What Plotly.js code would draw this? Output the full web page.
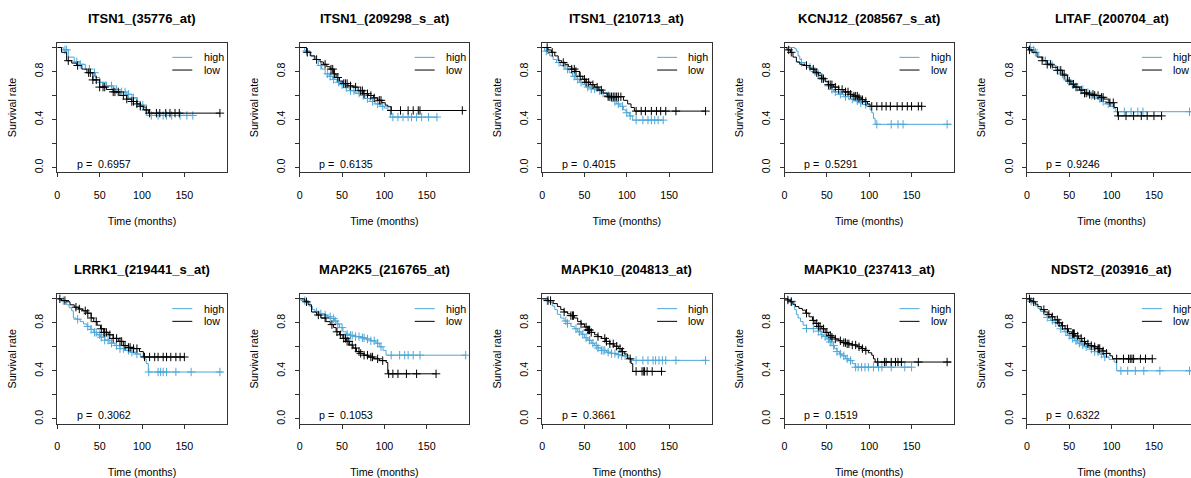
<!DOCTYPE html>
<html>
<head>
<meta charset="utf-8">
<script src="https://cdn.plot.ly/plotly-3.0.1.min.js"></script>
<style>
html,body{margin:0;padding:0;overflow:hidden;background:#fff;}
#chart{width:1212px;height:478px;}
</style>
</head>
<body>
<div id="chart"></div>
<script>
// ---------- DATA ----------
const titles = ["ITSN1_(35776_at)", "ITSN1_(209298_s_at)", "ITSN1_(210713_at)", "KCNJ12_(208567_s_at)", "LITAF_(200704_at)",
                "LRRK1_(219441_s_at)", "MAP2K5_(216765_at)", "MAPK10_(204813_at)", "MAPK10_(237413_at)", "NDST2_(203916_at)"];
const pValues = ["0.6957", "0.6135", "0.4015", "0.5291", "0.9246", "0.3062", "0.1053", "0.3661", "0.1519", "0.6322"];
const groupNames = ["high", "low"];
const xTickVals = [0, 50, 100, 150];
const yTickVals = [0, 0.2, 0.4, 0.6, 0.8, 1.0];
const yTickText = ["0.0", "", "0.4", "", "0.8", ""];

// Panel 1
const p1HighTime = [0, 7, 13, 20, 27, 33, 39, 45, 50, 58, 66, 74, 82, 88, 94, 98, 102, 105, 160];
const p1HighSurv = [1, 0.98, 0.92, 0.88, 0.86, 0.82, 0.79, 0.75, 0.71, 0.68, 0.65, 0.63, 0.61, 0.58, 0.55, 0.52, 0.50, 0.434, 0.434];
const p1HighCens = [9, 11, 23, 27, 38, 44, 50, 58, 64, 70, 76, 80, 84, 90, 94, 98, 101, 111, 119, 125, 129, 135, 145, 153, 160];
const p1LowTime = [0, 5, 11, 17, 23, 29, 35, 42, 50, 58, 66, 74, 82, 88, 94, 98, 102, 107.5, 192];
const p1LowSurv = [1, 0.96, 0.89, 0.87, 0.85, 0.82, 0.79, 0.73, 0.67, 0.65, 0.63, 0.60, 0.57, 0.55, 0.53, 0.51, 0.48, 0.453, 0.453];
const p1LowCens = [13, 24, 37, 39, 42, 46, 50, 54, 56, 66, 68, 72, 78, 82, 88, 90, 94, 98, 105, 109, 117, 121, 128, 133, 139, 144, 192];

// Panel 2
const p2HighTime = [0, 6, 12, 17, 22, 26, 30, 35, 39, 44, 49, 54, 59, 65, 71, 77, 83, 89, 95, 100, 104, 107, 162];
const p2HighSurv = [1, 0.97, 0.93, 0.90, 0.85, 0.82, 0.78, 0.76, 0.735, 0.71, 0.69, 0.665, 0.64, 0.62, 0.60, 0.575, 0.55, 0.53, 0.51, 0.495, 0.48, 0.42, 0.42];
const p2HighCens = [8, 25, 33, 36, 40, 46, 50, 55, 60, 64, 70, 75, 80, 86, 92, 98, 110, 116, 122, 128, 132, 138, 144, 152, 162];
const p2LowTime = [0, 8, 13, 18, 24, 28, 32, 36, 40, 43, 47, 51, 57, 63, 69, 75, 81, 87, 92, 97, 101, 104, 108, 192];
const p2LowSurv = [1, 0.96, 0.93, 0.90, 0.88, 0.86, 0.84, 0.82, 0.78, 0.75, 0.72, 0.70, 0.68, 0.67, 0.64, 0.615, 0.60, 0.58, 0.56, 0.54, 0.52, 0.506, 0.475, 0.475];
const p2LowCens = [9, 20, 30, 37, 39, 41, 45, 52, 54, 56, 60, 66, 72, 74, 76, 80, 84, 88, 94, 96, 108, 119, 128, 134, 140, 142, 192];

// Panel 3
const p3HighTime = [0, 3, 6, 9, 13, 17, 22, 28, 32, 36, 40, 44, 48, 52, 58, 64, 70, 76, 80, 84, 88, 92, 96, 99, 103, 107, 143];
const p3HighSurv = [1, 0.97, 0.95, 0.93, 0.90, 0.875, 0.85, 0.82, 0.79, 0.76, 0.735, 0.71, 0.69, 0.67, 0.655, 0.64, 0.62, 0.60, 0.58, 0.55, 0.53, 0.51, 0.48, 0.456, 0.43, 0.395, 0.395];
const p3HighCens = [5, 20, 26, 30, 38, 42, 46, 54, 58, 62, 68, 72, 78, 82, 86, 90, 95, 100, 104, 111, 119, 125, 129, 133, 137, 143];
const p3LowTime = [0, 7, 11, 15, 19, 23, 27, 31, 35, 39, 44, 48, 52, 57, 62, 67, 72, 77, 96, 101, 105, 109, 193];
const p3LowSurv = [1, 0.98, 0.96, 0.93, 0.89, 0.875, 0.86, 0.84, 0.82, 0.80, 0.76, 0.735, 0.71, 0.69, 0.67, 0.645, 0.62, 0.59, 0.56, 0.53, 0.50, 0.47, 0.47];
const p3LowCens = [6, 12, 25, 35, 38, 40, 45, 50, 52, 55, 60, 65, 70, 78, 80, 82, 84, 86, 88, 90, 93, 111, 117, 122, 129, 135, 140, 146, 158, 193];

// Panel 4
const p4HighTime = [0, 12, 14, 16, 18, 20, 24, 28, 32, 36, 40, 44, 48, 51, 54, 58, 64, 70, 76, 82, 87, 92, 97, 101, 103, 105, 107, 197];
const p4HighSurv = [1, 0.99, 0.97, 0.93, 0.90, 0.875, 0.85, 0.835, 0.82, 0.80, 0.78, 0.75, 0.72, 0.68, 0.65, 0.63, 0.61, 0.59, 0.57, 0.555, 0.54, 0.525, 0.51, 0.48, 0.456, 0.41, 0.36, 0.36];
const p4HighCens = [20, 30, 36, 40, 44, 52, 56, 60, 66, 72, 80, 86, 90, 96, 109, 126, 134, 140, 192];
const p4LowTime = [0, 3, 7, 10, 14, 18, 24, 30, 36, 40, 44, 48, 52, 58, 64, 70, 76, 82, 87, 91, 95, 98, 101, 162];
const p4LowSurv = [1, 0.98, 0.96, 0.92, 0.88, 0.86, 0.85, 0.82, 0.79, 0.765, 0.74, 0.715, 0.69, 0.67, 0.65, 0.63, 0.61, 0.595, 0.58, 0.565, 0.55, 0.53, 0.51, 0.51];
const p4LowCens = [5, 8, 26, 34, 38, 44, 46, 52, 54, 56, 60, 64, 68, 72, 75, 78, 82, 84, 86, 88, 92, 96, 103, 109, 115, 120, 125, 133, 139, 145, 150, 158, 162];

// Panel 5
const p5HighTime = [0, 5, 9, 14, 20, 24, 28, 34, 40, 46, 52, 58, 64, 70, 76, 82, 87, 93, 99, 102, 105, 195];
const p5HighSurv = [1, 0.98, 0.96, 0.92, 0.89, 0.87, 0.85, 0.81, 0.78, 0.73, 0.69, 0.67, 0.65, 0.625, 0.60, 0.575, 0.55, 0.53, 0.51, 0.49, 0.465, 0.465];
const p5HighCens = [4, 8, 10, 22, 30, 38, 42, 48, 54, 60, 66, 72, 76, 80, 86, 90, 96, 107, 115, 123, 131, 137, 192];
const p5LowTime = [0, 2, 6, 12, 18, 24, 30, 36, 42, 48, 52, 56, 62, 68, 74, 80, 86, 91, 97, 103, 107, 159];
const p5LowSurv = [1, 0.98, 0.96, 0.92, 0.89, 0.86, 0.835, 0.81, 0.77, 0.72, 0.695, 0.67, 0.645, 0.62, 0.61, 0.60, 0.585, 0.57, 0.54, 0.50, 0.43, 0.43];
const p5LowCens = [3, 18, 24, 28, 36, 40, 44, 50, 55, 58, 64, 68, 70, 74, 78, 80, 84, 88, 90, 98, 102, 108, 117, 126, 135, 142, 150, 159];

// Panel 6
const p6HighTime = [0, 4, 8, 11, 14, 17, 19, 22, 27, 31, 35, 39, 43, 47, 51, 56, 62, 68, 74, 80, 86, 92, 98, 102, 105, 107.5, 195];
const p6HighSurv = [1, 0.985, 0.97, 0.95, 0.925, 0.90, 0.84, 0.83, 0.81, 0.79, 0.77, 0.745, 0.72, 0.70, 0.68, 0.655, 0.63, 0.61, 0.585, 0.57, 0.555, 0.54, 0.52, 0.50, 0.46, 0.39, 0.39];
const p6HighCens = [7, 24, 36, 40, 44, 46, 50, 52, 56, 60, 64, 70, 74, 78, 84, 88, 94, 108, 119, 122, 125, 129, 140, 158, 192];
const p6LowTime = [0, 5, 11, 15, 20, 25, 30, 35, 40, 43, 47, 51, 55, 60, 66, 72, 78, 84, 90, 97, 101.6, 150];
const p6LowSurv = [1, 0.985, 0.975, 0.95, 0.93, 0.915, 0.90, 0.88, 0.84, 0.81, 0.78, 0.75, 0.72, 0.70, 0.67, 0.645, 0.61, 0.595, 0.585, 0.56, 0.515, 0.515];
const p6LowCens = [3, 9, 22, 26, 33, 36, 40, 46, 52, 55, 56, 58, 62, 66, 70, 74, 76, 80, 84, 86, 90, 94, 103, 109, 115, 119, 125, 129, 134, 140, 145, 150];

// Panel 7
const p7HighTime = [0, 4, 8, 12, 15, 18, 23, 28, 33, 37, 41, 44, 47, 51, 55, 60, 66, 72, 78, 84, 90, 94, 98.4, 102, 196];
const p7HighSurv = [1, 0.985, 0.975, 0.935, 0.91, 0.89, 0.875, 0.865, 0.85, 0.835, 0.815, 0.79, 0.76, 0.725, 0.705, 0.695, 0.685, 0.675, 0.665, 0.65, 0.63, 0.60, 0.57, 0.53, 0.53];
const p7HighCens = [6, 20, 25, 30, 36, 40, 42, 45, 50, 56, 60, 62, 66, 70, 74, 76, 80, 84, 88, 92, 96, 108, 118, 124, 128, 134, 142, 196];
const p7LowTime = [0, 6, 10, 14, 20, 25, 31, 36, 40, 43, 47, 51, 55, 59, 63, 67, 71, 75, 81, 87, 94, 102, 104, 161];
const p7LowSurv = [1, 0.975, 0.95, 0.89, 0.865, 0.84, 0.81, 0.785, 0.76, 0.725, 0.70, 0.67, 0.645, 0.615, 0.59, 0.56, 0.545, 0.53, 0.515, 0.50, 0.485, 0.47, 0.375, 0.375];
const p7LowCens = [8, 22, 30, 38, 44, 48, 52, 54, 56, 58, 62, 66, 70, 72, 76, 80, 84, 86, 92, 98, 105, 110, 116, 126, 138, 161];

// Panel 8
const p8HighTime = [0, 4, 8, 12, 15, 18, 22, 26, 30, 34, 38, 42, 46, 50, 54, 58, 62, 66, 70, 76, 82, 88, 94, 100, 104, 107, 194];
const p8HighSurv = [1, 0.985, 0.97, 0.94, 0.91, 0.87, 0.84, 0.815, 0.795, 0.77, 0.75, 0.725, 0.705, 0.675, 0.655, 0.63, 0.61, 0.59, 0.57, 0.555, 0.545, 0.535, 0.525, 0.51, 0.50, 0.487, 0.487];
const p8HighCens = [6, 28, 30, 40, 44, 48, 52, 56, 60, 64, 66, 70, 72, 74, 78, 82, 86, 90, 94, 98, 111, 119, 125, 131, 134, 138, 142, 146, 158, 193];
const p8LowTime = [0, 7, 13, 18, 22, 26, 30, 34, 38, 42, 46, 50, 54, 58, 62, 66, 70, 75, 80, 85, 90, 94, 97, 101, 105, 107, 141];
const p8LowSurv = [1, 0.985, 0.96, 0.935, 0.91, 0.89, 0.875, 0.86, 0.84, 0.81, 0.79, 0.765, 0.74, 0.72, 0.70, 0.685, 0.67, 0.645, 0.625, 0.605, 0.585, 0.56, 0.54, 0.50, 0.46, 0.395, 0.395];
const p8LowCens = [7, 10, 26, 34, 36, 37, 46, 52, 54, 55, 56, 58, 66, 74, 76, 80, 84, 88, 92, 95, 104, 111, 118, 120, 121, 124, 130, 141];

// Panel 9
const p9HighTime = [0, 5, 9, 12, 14, 16, 19, 22, 26, 40, 43, 46, 50, 53, 56, 59, 62, 65, 68, 72, 76, 80, 83.5, 150];
const p9HighSurv = [1, 0.98, 0.95, 0.91, 0.87, 0.84, 0.81, 0.78, 0.752, 0.73, 0.70, 0.685, 0.665, 0.64, 0.61, 0.585, 0.56, 0.54, 0.525, 0.50, 0.485, 0.46, 0.43, 0.43];
const p9HighCens = [8, 26, 34, 40, 44, 48, 52, 54, 58, 62, 66, 70, 74, 78, 84, 87, 91, 95, 99, 105, 111, 115, 126, 142, 150];
const p9LowTime = [0, 4, 7, 10, 13, 17, 21, 25, 29, 33, 36, 40, 44, 48, 52, 56, 60, 64, 68, 74, 80, 86, 91, 95, 99, 103, 105, 107, 197];
const p9LowSurv = [1, 0.99, 0.975, 0.955, 0.935, 0.92, 0.905, 0.88, 0.85, 0.82, 0.795, 0.77, 0.75, 0.72, 0.695, 0.68, 0.665, 0.65, 0.635, 0.625, 0.615, 0.60, 0.585, 0.57, 0.55, 0.53, 0.50, 0.473, 0.473];
const p9LowCens = [4, 8, 26, 34, 38, 40, 42, 46, 50, 54, 56, 60, 66, 70, 72, 74, 76, 80, 84, 88, 92, 96, 110, 118, 120, 126, 131, 134, 138, 158, 192];

// Panel 10
const p10HighTime = [0, 3, 7, 10, 13, 16, 20, 24, 28, 32, 36, 40, 44, 48, 52, 56, 60, 64, 68, 74, 80, 86, 91, 97, 103, 106, 196];
const p10HighSurv = [1, 0.98, 0.96, 0.94, 0.92, 0.895, 0.865, 0.845, 0.82, 0.80, 0.78, 0.75, 0.725, 0.695, 0.67, 0.65, 0.63, 0.615, 0.60, 0.58, 0.56, 0.54, 0.515, 0.495, 0.473, 0.40, 0.40];
const p10HighCens = [5, 24, 30, 34, 40, 46, 50, 54, 58, 62, 66, 70, 76, 80, 84, 88, 92, 111, 119, 128, 138, 157, 192];
const p10LowTime = [0, 4, 7, 10, 13, 17, 21, 25, 29, 33, 37, 41, 45, 49, 53, 57, 61, 65, 69, 73, 78, 84, 89, 94, 98, 101, 148];
const p10LowSurv = [1, 0.985, 0.975, 0.955, 0.935, 0.91, 0.89, 0.87, 0.85, 0.825, 0.80, 0.775, 0.75, 0.725, 0.71, 0.69, 0.67, 0.645, 0.625, 0.61, 0.60, 0.585, 0.565, 0.545, 0.525, 0.50, 0.50];
const p10LowCens = [3, 8, 20, 26, 30, 36, 38, 42, 48, 54, 55, 56, 60, 64, 68, 72, 76, 80, 84, 85, 86, 90, 94, 106, 114, 120, 122, 124, 126, 134, 140, 148];

// ---------- BUILD ----------
const panels = [
  [p1HighTime, p1HighSurv, p1HighCens, p1LowTime, p1LowSurv, p1LowCens],
  [p2HighTime, p2HighSurv, p2HighCens, p2LowTime, p2LowSurv, p2LowCens],
  [p3HighTime, p3HighSurv, p3HighCens, p3LowTime, p3LowSurv, p3LowCens],
  [p4HighTime, p4HighSurv, p4HighCens, p4LowTime, p4LowSurv, p4LowCens],
  [p5HighTime, p5HighSurv, p5HighCens, p5LowTime, p5LowSurv, p5LowCens],
  [p6HighTime, p6HighSurv, p6HighCens, p6LowTime, p6LowSurv, p6LowCens],
  [p7HighTime, p7HighSurv, p7HighCens, p7LowTime, p7LowSurv, p7LowCens],
  [p8HighTime, p8HighSurv, p8HighCens, p8LowTime, p8LowSurv, p8LowCens],
  [p9HighTime, p9HighSurv, p9HighCens, p9LowTime, p9LowSurv, p9LowCens],
  [p10HighTime, p10HighSurv, p10HighCens, p10LowTime, p10LowSurv, p10LowCens]
];

const COLORS = ["#4EA7D8", "#000000"];
const FONT = "Liberation Sans, Arial, Helvetica, sans-serif";
const FS = 10.7;
const W = 1212, H = 478;
const colLeft = [57.3, 299.7, 542.1, 784.5, 1026.9];
const rowTop = [42.7, 294];
const boxW = 169.4, boxH = 129.6;

function survAt(times, surv, t) {
  let s = surv[0];
  for (let i = 0; i < times.length; i++) {
    if (times[i] <= t) s = surv[i]; else break;
  }
  return s;
}

const data = [];
const layout = {
  width: W, height: H,
  margin: {l: 0, r: 0, t: 0, b: 0},
  paper_bgcolor: "#fff", plot_bgcolor: "#fff",
  showlegend: false,
  font: {family: FONT, size: FS, color: "#000"},
  annotations: [], shapes: []
};

panels.forEach((p, k) => {
  const r = Math.floor(k / 5), c = k % 5;
  const n = k === 0 ? "" : String(k + 1);
  const xa = "x" + n, ya = "y" + n;
  const left = colLeft[c], top = rowTop[r];

  layout["xaxis" + n] = {
    domain: [left / W, (left + boxW) / W], anchor: ya,
    range: [0, 200], showgrid: false, zeroline: false,
    showline: true, mirror: true, linecolor: "#333", linewidth: 1,
    ticks: "outside", ticklen: 4, tickcolor: "#333", tickwidth: 1,
    tickvals: xTickVals, ticktext: xTickVals.map(String),
    ticklabelstandoff: 9,
    tickfont: {family: FONT, size: FS, color: "#000"},
    title: {text: "Time (months)", font: {family: FONT, size: FS, color: "#000"}, standoff: 17},
    fixedrange: true
  };
  layout["yaxis" + n] = {
    domain: [(H - top - boxH) / H, (H - top) / H], anchor: xa,
    range: [-0.04, 1.04], showgrid: false, zeroline: false,
    showline: true, mirror: true, linecolor: "#333", linewidth: 1,
    ticks: "outside", ticklen: 4, tickcolor: "#333", tickwidth: 1,
    tickvals: yTickVals, ticktext: yTickText, tickangle: -90,
    ticklabelstandoff: 5,
    tickfont: {family: FONT, size: FS, color: "#000"},
    title: {text: "Survival rate", font: {family: FONT, size: FS, color: "#000"}, standoff: 14},
    fixedrange: true
  };

  for (let g = 0; g < 2; g++) {
    const T = p[g * 3], S = p[g * 3 + 1], C = p[g * 3 + 2];
    data.push({
      type: "scatter", mode: "lines", x: T, y: S, xaxis: xa, yaxis: ya,
      line: {shape: "hv", color: COLORS[g], width: 1}, name: groupNames[g],
      hoverinfo: "skip"
    });
    data.push({
      type: "scatter", mode: "markers", x: C, y: C.map(t => survAt(T, S, t)),
      xaxis: xa, yaxis: ya, name: groupNames[g] + " censored",
      marker: {symbol: "cross-thin", size: 6, color: COLORS[g], line: {color: COLORS[g], width: 1}},
      hoverinfo: "skip"
    });
  }

  // panel title
  layout.annotations.push({
    text: "<b>" + titles[k] + "</b>", xref: xa + " domain", yref: ya + " domain",
    x: 0.5, y: 1, xanchor: "center", yanchor: "middle", yshift: 24.4,
    showarrow: false, font: {family: FONT, size: 13, color: "#000"}
  });
  // p value
  layout.annotations.push({
    text: "p = \u00a0" + pValues[k], xref: xa, yref: ya, x: 55, y: 0.03,
    xanchor: "center", yanchor: "middle", showarrow: false,
    font: {family: FONT, size: FS, color: "#000"}
  });
  // legend
  const legY = [0.887, 0.789];
  for (let g = 0; g < 2; g++) {
    layout.shapes.push({
      type: "line", xref: xa + " domain", yref: ya + " domain",
      x0: 0.679, x1: 0.797, y0: legY[g], y1: legY[g],
      line: {color: COLORS[g], width: 1}
    });
    layout.annotations.push({
      text: groupNames[g], xref: xa + " domain", yref: ya + " domain",
      x: 0.852, y: legY[g], xanchor: "left", yanchor: "middle", showarrow: false,
      font: {family: FONT, size: FS, color: "#000"}
    });
  }
});

Plotly.newPlot("chart", data, layout, {staticPlot: true, displayModeBar: false});
</script>
</body>
</html>
